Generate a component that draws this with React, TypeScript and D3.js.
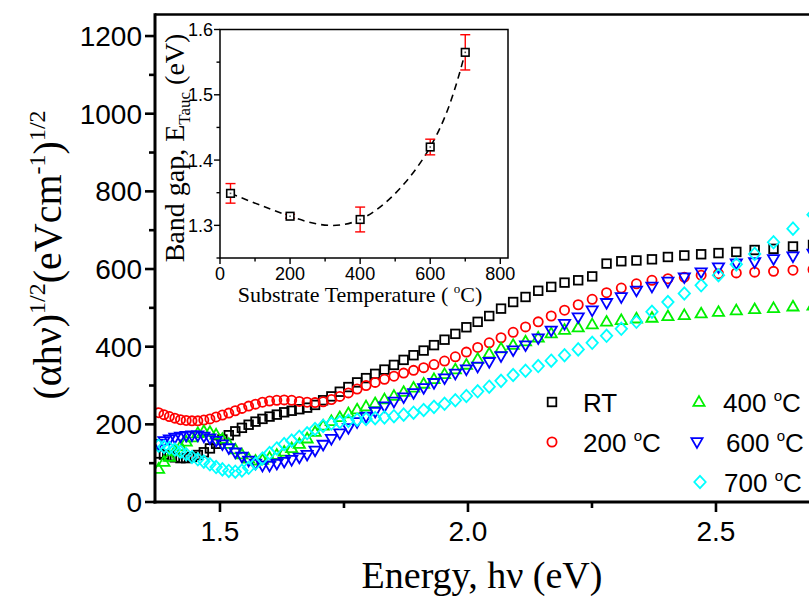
import React from "react";
import * as d3 from "d3";

// Wavelength grid of the absorption spectra (nm); photon energy = 1240 / λ
const wavelengthNm = [
  901, 894, 887, 880, 873, 866, 859, 852, 845, 838,
  831, 824, 817, 810, 803, 796, 789, 782, 775, 768,
  761, 754, 747, 740, 733, 726, 719, 712, 705, 698,
  691, 684, 677, 670, 663, 656, 649, 642, 635, 628,
  621, 614, 607, 600, 593, 586, 579, 572, 565, 558,
  551, 544, 537, 530, 523, 516, 509, 502, 495, 488,
  481, 474, 467, 460,
];

// (αhν)^1/2 for each substrate temperature
const seriesRT = [
  125, 122, 118, 115, 113, 113, 116, 121, 128, 138,
  150, 161, 172, 182, 191, 199, 207, 214, 220, 225,
  231, 235, 239, 243, 250, 262, 272, 284, 296, 308,
  319, 330, 341, 353, 366, 378, 390, 404, 418, 433,
  450, 464, 479, 498, 515, 528, 544, 554, 565, 571,
  581, 614, 620, 622, 625, 631, 635, 638, 641, 644,
  649, 652, 658, 662,
];
const series200 = [
  230, 225, 220, 216, 212, 210, 209, 209, 211, 214,
  219, 224, 229, 235, 241, 247, 252, 257, 260, 262,
  263, 262, 259, 257, 256, 258, 264, 272, 281, 291,
  300, 308, 316, 324, 332, 339, 346, 354, 363, 374,
  386, 398, 410, 423, 437, 451, 464, 479, 494, 508,
  522, 539, 551, 562, 571, 575, 579, 584, 588, 590,
  592, 594, 597, 599,
];
const series400 = [
  85, 103, 116, 130, 143, 155, 166, 177, 182, 180,
  173, 162, 149, 135, 122, 111, 106, 108, 114, 121,
  129, 138, 149, 163, 180, 196, 208, 218, 228, 238,
  246, 254, 264, 273, 283, 294, 304, 316, 329, 341,
  353, 368, 382, 395, 404, 413, 423, 434, 443, 449,
  457, 464, 468, 472, 474, 478, 481, 485, 489, 493,
  496, 499, 503, 505,
];
const series600 = [
  150, 157, 162, 166, 169, 171, 172, 172, 169, 164,
  158, 149, 139, 128, 117, 107, 99, 94, 94, 99,
  104, 109, 115, 122, 133, 148, 163, 177, 191, 206,
  220, 233, 247, 259, 270, 281, 294, 307, 319, 331,
  342, 349, 361, 376, 391, 404, 422, 442, 459, 476,
  494, 513, 528, 545, 555, 568, 579, 592, 605, 615,
  618, 626, 633, 640,
];
const series700 = [
  145, 142, 139, 135, 129, 123, 116, 110, 104, 97,
  90, 84, 80, 78, 81, 88, 99, 112, 126, 138,
  149, 158, 168, 177, 188, 196, 202, 206, 209, 212,
  214, 216, 218, 221, 225, 230, 237, 245, 253, 262,
  273, 285, 297, 312, 327, 338, 350, 364, 378, 393,
  410, 428, 446, 464, 490, 515, 537, 558, 584, 612,
  639, 669, 704, 740,
];

// Inset: Tauc band gap vs substrate temperature
const insetTemp = [30, 200, 400, 600, 700];
const insetGap = [1.349, 1.314, 1.309, 1.42, 1.565];
const insetErr = [0.015, 0.003, 0.019, 0.012, 0.027];

const yMajor = [0, 200, 400, 600, 800, 1000, 1200];
const yMinor = [100, 300, 500, 700, 900, 1100];
const xMajor = [1.5, 2.0, 2.5];
const xMinor = [1.75, 2.25];
const insetXMajor = [0, 200, 400, 600, 800];
const insetXMinor = [100, 300, 500, 700];
const insetYMajor = [1.3, 1.4, 1.5, 1.6];
const insetYMinor = [1.25, 1.35, 1.45, 1.55];

const W = 809;
const H = 596;
const SANS = "'Liberation Sans', Arial, Helvetica, sans-serif";
const SERIF = "'Liberation Serif', 'Times New Roman', Times, serif";

type Shape = "square" | "circle" | "up" | "down" | "diamond";

const energies = wavelengthNm.map((l) => 1240 / l);

const series: { label: string; deg: boolean; values: number[]; color: string; shape: Shape }[] = [
  { label: "RT", deg: false, values: seriesRT, color: "#000000", shape: "square" },
  { label: "200", deg: true, values: series200, color: "#ff0000", shape: "circle" },
  { label: "400", deg: true, values: series400, color: "#00f000", shape: "up" },
  { label: "600", deg: true, values: series600, color: "#0000ff", shape: "down" },
  { label: "700", deg: true, values: series700, color: "#00ffff", shape: "diamond" },
];

function Marker({ shape, x, y, color, sw = 1.8 }: { shape: Shape; x: number; y: number; color: string; sw?: number }) {
  const common = { fill: "none", stroke: color, strokeWidth: sw };
  switch (shape) {
    case "square":
      return <rect x={x - 4.3} y={y - 4.3} width={8.6} height={8.6} {...common} />;
    case "circle":
      return <circle cx={x} cy={y} r={4.6} {...common} />;
    case "up":
      return <path d={`M${x},${y - 5.9}L${x + 5.6},${y + 3.8}L${x - 5.6},${y + 3.8}Z`} {...common} />;
    case "down":
      return <path d={`M${x},${y + 5.9}L${x + 5.6},${y - 3.8}L${x - 5.6},${y - 3.8}Z`} {...common} />;
    default:
      return <path d={`M${x},${y - 6.2}L${x + 5.7},${y}L${x},${y + 6.2}L${x - 5.7},${y}Z`} {...common} />;
  }
}

export default function App() {
  // main plot frame
  const left = 155;
  const bottom = 502;
  const top = 14.5;
  const pxPerEV = 496;
  const x = d3.scaleLinear().domain([1.369, 2.75]).range([left, left + (2.75 - 1.369) * pxPerEV]);
  const y = d3.scaleLinear().domain([0, 1255]).range([bottom, bottom - 1255 * 0.3883]);
  const right = x.range()[1];

  // inset frame
  const ix = d3.scaleLinear().domain([0, 822]).range([220, 508]);
  const iy = d3.scaleLinear().domain([1.25, 1.6]).range([258, 29.5]);
  const fitLine = d3
    .line<number>()
    .x((_, i) => ix(insetTemp[i]))
    .y((d) => iy(d))
    .curve(d3.curveNatural)(insetGap) as string;

  const legendRows = [
    { s: series[0], mx: 552, tx: 583, ry: 402 },
    { s: series[1], mx: 552, tx: 583, ry: 442 },
    { s: series[2], mx: 699, tx: 723, ry: 402 },
    { s: series[3], mx: 697, tx: 726, ry: 442 },
    { s: series[4], mx: 700, tx: 724, ry: 482 },
  ];

  return (
    <svg
      width={W}
      height={H}
      viewBox={`0 0 ${W} ${H}`}
      style={{ position: "absolute", left: 0, top: 0, background: "#ffffff", overflow: "hidden" }}
    >
      <defs>
        <clipPath id="plotClip">
          <rect x={left} y={top} width={right - left} height={bottom - top} />
        </clipPath>
      </defs>
      <rect x={0} y={0} width={W} height={H} fill="#ffffff" />

      {/* spectra */}
      <g clipPath="url(#plotClip)">
        {series.map((s) => (
          <g key={s.label}>
            {s.values.map((v, i) => (
              <Marker key={i} shape={s.shape} x={x(energies[i])} y={y(v)} color={s.color} />
            ))}
          </g>
        ))}
      </g>

      {/* main axes */}
      <g stroke="#000" fill="none">
        <line x1={left} x2={right} y1={top} y2={top} strokeWidth={2.6} />
        <line x1={left} x2={left} y1={top - 1.3} y2={bottom + 1.5} strokeWidth={3} />
        <line x1={left - 1.5} x2={right} y1={bottom} y2={bottom} strokeWidth={3} />
        {yMajor.map((t) => (
          <line key={`ym${t}`} x1={left - 10} x2={left} y1={y(t)} y2={y(t)} strokeWidth={2.6} />
        ))}
        {yMinor.map((t) => (
          <line key={`yn${t}`} x1={left - 6} x2={left} y1={y(t)} y2={y(t)} strokeWidth={2.6} />
        ))}
        {xMajor.map((t) => (
          <line key={`xm${t}`} x1={x(t)} x2={x(t)} y1={bottom} y2={bottom + 10} strokeWidth={2.6} />
        ))}
        {xMinor.map((t) => (
          <line key={`xn${t}`} x1={x(t)} x2={x(t)} y1={bottom} y2={bottom + 6} strokeWidth={2.6} />
        ))}
      </g>
      <g fontFamily={SANS} fontSize={28} fill="#000">
        {yMajor.map((t) => (
          <text key={`yl${t}`} x={142} y={y(t)} dy="0.36em" textAnchor="end">
            {t}
          </text>
        ))}
        {xMajor.map((t) => (
          <text key={`xl${t}`} x={x(t)} y={541} textAnchor="middle">
            {d3.format(".1f")(t)}
          </text>
        ))}
      </g>

      {/* axis titles */}
      <text x={482} y={588} textAnchor="middle" fontFamily={SERIF} fontSize={38} fill="#000">
        Energy, hν (eV)
      </text>
      <text
        transform="translate(61,255) rotate(-90)"
        textAnchor="middle"
        fontFamily={SERIF}
        fontSize={40}
        fill="#000"
      >
        <tspan>(αhν)</tspan>
        <tspan fontSize={24} dy={-16}>1/2</tspan>
        <tspan fontSize={40} dy={16}>(eVcm</tspan>
        <tspan fontSize={24} dy={-16}>-1</tspan>
        <tspan fontSize={40} dy={16}>)</tspan>
        <tspan fontSize={24} dy={-16}>1/2</tspan>
      </text>

      {/* legend */}
      <g fontFamily={SANS} fontSize={26} fill="#000">
        {legendRows.map(({ s, mx, tx, ry }) => (
          <g key={`lg${s.label}`}>
            <Marker shape={s.shape} x={mx} y={ry} color={s.color} />
            <text x={tx} y={ry + 9.5}>
              {s.deg ? (
                <>
                  <tspan>{s.label} </tspan>
                  <tspan fontSize={15} dy={-11}>o</tspan>
                  <tspan dy={11}>C</tspan>
                </>
              ) : (
                s.label
              )}
            </text>
          </g>
        ))}
      </g>

      {/* inset */}
      <g>
        <rect
          x={ix(0)}
          y={iy(1.6)}
          width={508 - ix(0)}
          height={iy(1.25) - iy(1.6)}
          fill="#ffffff"
          stroke="#000"
          strokeWidth={1.5}
        />
        <g stroke="#000" strokeWidth={1.4}>
          {insetXMajor.map((t) => (
            <line key={`ixm${t}`} x1={ix(t)} x2={ix(t)} y1={258} y2={264} />
          ))}
          {insetXMinor.map((t) => (
            <line key={`ixn${t}`} x1={ix(t)} x2={ix(t)} y1={258} y2={261.5} />
          ))}
          {insetYMajor.map((t) => (
            <line key={`iym${t}`} x1={220 - 6} x2={220} y1={iy(t)} y2={iy(t)} />
          ))}
          {insetYMinor.map((t) => (
            <line key={`iyn${t}`} x1={220 - 3.5} x2={220} y1={iy(t)} y2={iy(t)} />
          ))}
        </g>
        <g fontFamily={SANS} fontSize={18} fill="#000">
          {insetXMajor.map((t) => (
            <text key={`ixl${t}`} x={ix(t)} y={279.5} textAnchor="middle">
              {t}
            </text>
          ))}
          {insetYMajor.map((t) => (
            <text key={`iyl${t}`} x={213} y={iy(t)} dy="0.36em" textAnchor="end">
              {d3.format(".1f")(t)}
            </text>
          ))}
        </g>
        <path d={fitLine} fill="none" stroke="#000" strokeWidth={1.6} strokeDasharray="7,5" />
        {insetTemp.map((t, i) => {
          const cx = ix(t);
          const yHi = iy(insetGap[i] + insetErr[i]);
          const yLo = iy(insetGap[i] - insetErr[i]);
          return (
            <g key={`ie${t}`} stroke="#ff0000" strokeWidth={1.4}>
              <line x1={cx} x2={cx} y1={yHi} y2={yLo} />
              <line x1={cx - 5} x2={cx + 5} y1={yHi} y2={yHi} />
              <line x1={cx - 5} x2={cx + 5} y1={yLo} y2={yLo} />
            </g>
          );
        })}
        {insetTemp.map((t, i) => (
          <g key={`ip${t}`}>
            <rect
              x={ix(t) - 3.8}
              y={iy(insetGap[i]) - 3.8}
              width={7.6}
              height={7.6}
              fill="#ffffff"
              stroke="#000"
              strokeWidth={1.6}
            />
            <rect x={ix(t) - 0.8} y={iy(insetGap[i]) - 0.8} width={1.6} height={1.6} fill="#555" />
          </g>
        ))}
        <text x={360} y={302} textAnchor="middle" fontFamily={SERIF} fontSize={22} fill="#000">
          <tspan>Substrate Temperature ( </tspan>
          <tspan fontSize={13} dy={-9}>o</tspan>
          <tspan dy={9}>C)</tspan>
        </text>
        <text
          transform="translate(184,148) rotate(-90)"
          textAnchor="middle"
          fontFamily={SERIF}
          fontSize={28}
          fill="#000"
        >
          <tspan>Band gap, E</tspan>
          <tspan fontSize={17} dy={6}>Tauc</tspan>
          <tspan fontSize={28} dy={-6}> (eV)</tspan>
        </text>
      </g>
    </svg>
  );
}
